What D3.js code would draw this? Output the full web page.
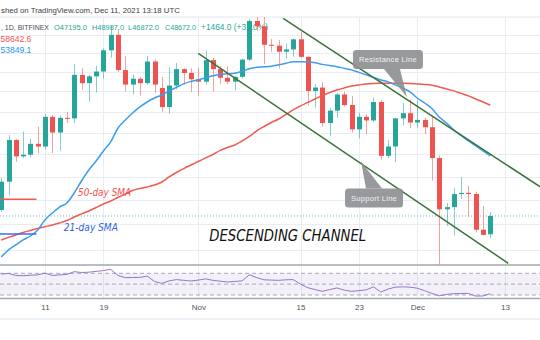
<!DOCTYPE html>
<html><head><meta charset="utf-8">
<script src="https://cdn.jsdelivr.net/npm/d3@7"></script>
<style>body{margin:0;background:#fff;}svg{display:block;font-family:"Liberation Sans",Arial,sans-serif;}</style>
</head><body><svg id="c" width="540" height="340"></svg>
<script>
// ---------- DATA ----------
const dates = ["2021-10-05","2021-10-06","2021-10-07","2021-10-08","2021-10-09","2021-10-10",
"2021-10-11","2021-10-12","2021-10-13","2021-10-14","2021-10-15","2021-10-16","2021-10-17","2021-10-18","2021-10-19","2021-10-20","2021-10-21","2021-10-22","2021-10-23","2021-10-24","2021-10-25","2021-10-26","2021-10-27","2021-10-28","2021-10-29","2021-10-30","2021-10-31",
"2021-11-01","2021-11-02","2021-11-03","2021-11-04","2021-11-05","2021-11-06","2021-11-07","2021-11-08","2021-11-09","2021-11-10","2021-11-11","2021-11-12","2021-11-13","2021-11-14","2021-11-15","2021-11-16","2021-11-17","2021-11-18","2021-11-19","2021-11-20","2021-11-21","2021-11-22","2021-11-23","2021-11-24","2021-11-25","2021-11-26","2021-11-27","2021-11-28","2021-11-29","2021-11-30",
"2021-12-01","2021-12-02","2021-12-03","2021-12-04","2021-12-05","2021-12-06","2021-12-07","2021-12-08","2021-12-09","2021-12-10","2021-12-11"];
const opens = [49165,51560,55300,53800,53950,54950,
54700,57500,56000,57400,57350,61700,60850,61550,62050,64300,66000,62200,60700,61300,60850,63100,60350,58450,60600,62300,61900,
61250,61000,63250,62300,61400,61000,61500,63300,67550,66950,64900,64800,64150,64400,65500,63600,60050,60400,56900,58100,59700,58650,56300,57500,57150,58950,53850,54700,57350,57850,
56950,57200,56500,53650,49220,49400,50500,50600,50500,47560,47195];
const highs = [51900,55750,55400,56100,55450,56550,
57800,57700,57650,58000,62850,62400,61700,62650,64500,67000,66650,63700,61750,61500,63700,63300,61500,62500,62950,62400,62400,
62450,64300,63500,62600,62600,61550,63400,67750,68550,69000,65550,65450,65000,65600,66300,63650,60750,60950,58350,59850,60000,59550,57900,57750,59400,59150,55300,57400,58850,59200,
59100,57400,57600,53900,49750,51000,51950,51200,50700,49500,48987];
const lows = [49000,50400,53300,53650,53700,54100,
54450,54100,54300,56900,56900,60200,58950,59900,61300,63500,62000,60000,59700,59600,60700,59850,58000,57800,60200,60700,59950,
59550,60700,60000,60750,60750,60100,61350,63150,66400,62850,64150,62350,63400,63600,63500,58600,58400,56550,55650,57400,58500,56000,55450,55850,57000,53500,53650,53300,56700,56400,
56450,55850,51650,42000,47850,47100,50100,48600,47350,47100,46872];
const closes = [51560,55300,53800,53950,54950,54700,
57500,56000,57400,57350,61700,60850,61550,62050,64300,66000,62200,60700,61300,60850,63100,60700,58450,60600,62300,61900,61250,
61000,63250,62300,61400,61000,61500,63300,67550,66950,64900,64800,64150,64400,65500,63600,60050,60400,56900,58100,59700,58650,56300,57500,57150,58950,53850,54700,57350,57850,56950,
57200,56500,53650,49220,49400,50500,50600,50500,47560,47150,48672];
const sma21 = [45430,45970,46360,46750,47060,47540,
48345,48920,49410,49750,50590,51620,52580,53380,54290,55120,56430,57190,57870,58460,58950,59350,59650,60060,60410,60770,61030,
61180,61390,61600,61750,61810,61880,62070,62330,62490,62540,62600,62750,62910,63090,63070,63040,62960,62800,62670,62560,62380,62220,61960,61700,61440,61180,60980,60670,60360,59960,
59350,58850,58310,57480,56900,56240,55720,55210,54750,54290,53849.1];
const sma50 = [46750,46950,47140,47340,47500,47660,
47800,47940,48100,48300,48590,48840,49080,49370,49660,49910,50210,50500,50800,50970,51100,51270,51530,51970,52360,52710,53030,
53340,53660,53970,54340,54610,54840,55210,55630,56150,56570,56950,57290,57730,58170,58560,58910,59250,59600,59900,60150,60360,60560,60670,60770,60820,60830,60840,60840,60830,60820,
60770,60720,60640,60460,60250,60060,59810,59560,59250,58950,58642.6];
const rsi = [68.5,69.8,66,65.5,66.5,67,
70.4,66,67,68,73,71.5,72,73.5,75,77.4,66,62,62.2,62.5,64.7,55,51.4,56,58.4,57,55.8,
57.5,59.7,57,55.5,54,55,56,67.3,62,58,57.5,57,58,58.4,50,43.5,40,36.8,40,43,39,36.8,38,39.5,45,35.5,41,44.5,45,44.5,
42.5,38,33,28.5,31,32.4,32.8,33,28,28.2,32.4];
const tickDates = ["2021-10-11","2021-10-19","2021-11-01","2021-11-15","2021-11-23","2021-12-01","2021-12-13"];
const tickLabels = ["11","19","Nov","15","23","Dec","13"];
const priceGrid = [46000,48000,50000,52000,54000,56000,58000,60000,62000,64000,66000];
const rsiLevels = [70,50,30];
const resistanceLine = [["2021-11-12T15:00",67850],["2021-12-17T19:00",51130]];
const supportLine = [["2021-11-01T00:00",63980],["2021-12-13T11:00",44950]];
const hRayRed = [["2021-10-04T19:00",50060],["2021-10-09T20:00",50060]];
const hRayBlue = [["2021-10-04T19:00",47220],["2021-10-09T20:00",47220]];
const callouts = [{text:"Resistance Line",date:"2021-11-29T14:00",price:59450,kind:"above"},
                  {text:"Support Line",date:"2021-11-23T07:00",price:53340,kind:"below"}];
const labels = [{text:"50-day SMA",date:"2021-10-15T12:30",price:50335,color:"#ef5350",w:53,fs:10.5},
                {text:"21-day SMA",date:"2021-10-13T14:00",price:47420,color:"#2f5fe8",w:54,fs:10.5},
                {text:"DESCENDING CHANNEL",date:"2021-11-02T12:00",price:46670,color:"#111",w:157,fs:16.5}];
const headerText = "shed on TradingView.com, Dec 11, 2021 13:18 UTC";
const symbolText = ", 1D, BITFINEX";
const ohlcTexts = ["O47195.0","H48987.0","L46872.0","C48672.0"];
const changeText = "+1464.0 (+3.10%)";
const smaLegend = ["58642.6","53849.1"];
const lastClose = 48672;

// ---------- SCALES ----------
const svg = d3.select("#c");
const pd = d3.utcParse("%Y-%m-%d");
const pt = d3.utcParse("%Y-%m-%dT%H:%M");
const x = d3.scaleUtc().domain([pd("2021-10-11"), pd("2021-12-13")]).range([45, 504.9]);
const y = d3.scaleLog().domain([44000, 70000]).range([276.0, -0.2]);
const yr = d3.scaleLinear().domain([30, 70]).range([295, 273.3]);
const PT = 17, PB = 265, RB = 298.5;
const GREEN = "#26a69a", RED = "#ef5350";

svg.append("rect").attr("width",540).attr("height",340).attr("fill","#fff");
const defs = svg.append("defs");
defs.append("clipPath").attr("id","main").append("rect").attr("x",0).attr("y",PT).attr("width",540).attr("height",PB-PT);
defs.append("clipPath").attr("id","rsi").append("rect").attr("x",0).attr("y",PB).attr("width",540).attr("height",RB-PB);

const grid = svg.append("g").attr("stroke","#e8edf4").attr("stroke-width",1);
grid.selectAll("line.h").data(priceGrid).join("line").attr("x1",0).attr("x2",540)
  .attr("y1",d=>Math.round(y(d))+0.5).attr("y2",d=>Math.round(y(d))+0.5);
grid.selectAll("line.v").data(tickDates).join("line")
  .attr("x1",d=>Math.round(x(pd(d)))+0.5).attr("x2",d=>Math.round(x(pd(d)))+0.5).attr("y1",PT).attr("y2",RB);

svg.append("line").attr("x1",0).attr("x2",540).attr("y1",17).attr("y2",17).attr("stroke","#e3e6ec");
svg.append("line").attr("x1",0).attr("x2",540).attr("y1",319).attr("y2",319).attr("stroke","#eef0f5").attr("stroke-width",2);

// text sized so that its natural width spans x0..x1
function fitText(x0, x1, yy, str, color){
  const t = svg.append("text").attr("x",x0).attr("y",yy).attr("font-size",8.5).attr("fill",color).text(str);
  const w = t.node().getComputedTextLength();
  t.attr("font-size", (8.5*(x1-x0)/w).toFixed(2));
  return t;
}
fitText(1, 180, 13, headerText, "#3b3e47");
fitText(1, 49, 29.5, symbolText, "#4a4d56");
const ohlcPos = [[54,87],[92,124],[128,159],[165,196]];
ohlcTexts.forEach((s,i)=>fitText(ohlcPos[i][0], ohlcPos[i][1], 29.5, s, GREEN));
fitText(201, 268, 29.5, changeText, GREEN);
svg.append("text").attr("x",0.5).attr("y",41.5).attr("font-size",8.5).attr("fill",RED).text(smaLegend[0]);
svg.append("text").attr("x",0.5).attr("y",53).attr("font-size",8.5).attr("fill","#2196f3").text(smaLegend[1]);

const main = svg.append("g").attr("clip-path","url(#main)");
main.append("line").attr("x1",0).attr("x2",540).attr("y1",y(lastClose)).attr("y2",y(lastClose))
  .attr("stroke",GREEN).attr("stroke-dasharray","1,2").attr("opacity",0.7);

const data = dates.map((d,i)=>({date:pd(d),o:opens[i],h:highs[i],l:lows[i],c:closes[i]}));
const cg = main.append("g");
cg.selectAll("line").data(data).join("line")
  .attr("x1",d=>Math.round(x(d.date))+0.5).attr("x2",d=>Math.round(x(d.date))+0.5)
  .attr("y1",d=>y(d.h)).attr("y2",d=>y(d.l))
  .attr("stroke",d=>d.c>=d.o?GREEN:RED).attr("stroke-opacity",0.55);
cg.selectAll("rect").data(data).join("rect")
  .attr("x",d=>Math.round(x(d.date))-2).attr("width",5)
  .attr("y",d=>y(Math.max(d.o,d.c))).attr("height",d=>Math.max(1,Math.abs(y(d.o)-y(d.c))))
  .attr("fill",d=>d.c>=d.o?GREEN:RED);

const line = d3.line().x(d=>x(d[0])).y(d=>y(d[1])).curve(d3.curveMonotoneX);
main.append("path").datum(dates.map((d,i)=>[pd(d),sma50[i]])).attr("d",line)
  .attr("fill","none").attr("stroke","#f05a4f").attr("stroke-width",1.5);
main.append("path").datum(dates.map((d,i)=>[pd(d),sma21[i]])).attr("d",line)
  .attr("fill","none").attr("stroke","#3d9cf0").attr("stroke-width",1.5);

const sline = d3.line().x(d=>x(pt(d[0]))).y(d=>y(d[1]));
main.append("path").datum(hRayRed).attr("d",sline).attr("stroke","#f05a4f").attr("stroke-width",1.5);
main.append("path").datum(hRayBlue).attr("d",sline).attr("stroke","#3a6ef0").attr("stroke-width",1.5);
[resistanceLine, supportLine].forEach(l=>{
  main.append("path").datum(l).attr("d",sline).attr("stroke","#3b7139").attr("stroke-width",1.5).attr("fill","none");
});

callouts.forEach(c=>{
  const tx = x(pt(c.date)), ty = y(c.price);
  let bx0,bx1,by0,by1,base;
  if(c.kind==="above"){ bx0=tx-54; bx1=tx+16; by0=ty-47; by1=ty-28; base=[tx-23,tx-7]; }
  else { bx0=tx-16; bx1=tx+42; by0=ty+27; by1=ty+46; base=[tx+5,tx+21]; }
  const g = main.append("g");
  const by = c.kind==="above"?by1:by0;
  g.append("path").attr("d",`M${base[0]},${by}L${tx},${ty}L${base[1]},${by}Z`).attr("fill","#8e9095").attr("opacity",0.92);
  g.append("rect").attr("x",bx0).attr("y",by0).attr("width",bx1-bx0).attr("height",by1-by0).attr("rx",3.5)
    .attr("fill","#8e9095").attr("opacity",0.92);
  g.append("text").attr("x",(bx0+bx1)/2).attr("y",(by0+by1)/2+2.6).attr("text-anchor","middle")
    .attr("font-size",7.5).attr("fill","#f2f2f2").attr("letter-spacing",0.3).text(c.text);
});

labels.forEach(l=>{
  main.append("text").attr("x",x(pt(l.date))).attr("y",y(l.price)).attr("font-size",l.fs)
    .attr("font-style","italic").attr("font-family","'DejaVu Sans',sans-serif").attr("fill",l.color)
    .attr("textLength",l.w).attr("lengthAdjust","spacingAndGlyphs").text(l.text);
});

const rg = svg.append("g").attr("clip-path","url(#rsi)");
rg.append("rect").attr("x",0).attr("width",540).attr("y",yr(70)).attr("height",yr(30)-yr(70)).attr("fill","rgba(126,87,194,0.09)");
rg.selectAll("line.lv").data(rsiLevels).join("line").attr("x1",0).attr("x2",540)
  .attr("y1",d=>yr(d)).attr("y2",d=>yr(d)).attr("stroke","#9598a1").attr("stroke-dasharray","4,3").attr("stroke-width",0.8);
rg.append("path").datum(dates.map((d,i)=>[pd(d),rsi[i]])).attr("fill","none").attr("stroke","#9575cd").attr("stroke-width",1)
  .attr("d",d3.line().x(d=>x(d[0])).y(d=>yr(d[1])));

svg.append("line").attr("x1",0).attr("x2",540).attr("y1",PB).attr("y2",PB).attr("stroke","#a4a7b0").attr("stroke-width",1.5);
svg.append("line").attr("x1",0).attr("x2",540).attr("y1",RB).attr("y2",RB).attr("stroke","#a4a7b0").attr("stroke-width",1.5);

const ax = svg.append("g").attr("transform",`translate(0,${RB})`)
  .call(d3.axisBottom(x).tickValues(tickDates.map(pd)).tickFormat((d,i)=>tickLabels[i]).tickSize(0).tickPadding(6));
ax.select(".domain").remove();
ax.selectAll("text").attr("font-size",8).attr("fill","#50535e").attr("font-family","'Liberation Sans',Arial,sans-serif");
</script></body></html>
